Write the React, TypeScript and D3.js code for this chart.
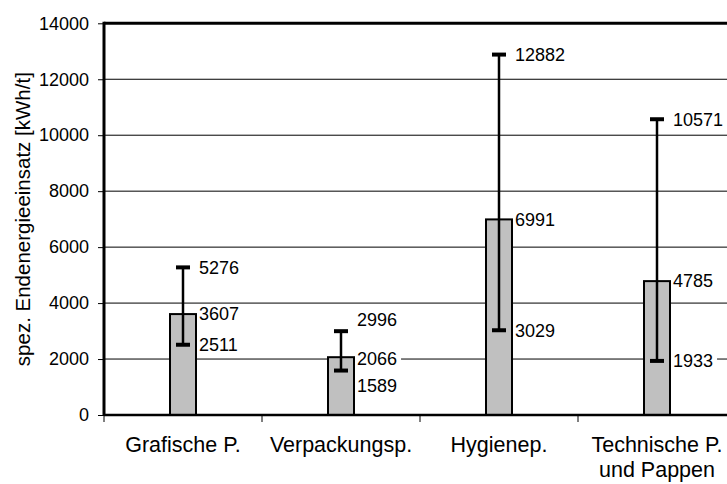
import React, { useEffect } from 'react'
import * as d3 from 'd3';

const categories = ["Grafische P.", "Verpackungsp.", "Hygienep.", "Technische P.|und Pappen"];
const meanValues = [3607, 2066, 6991, 4785];
const maxValues = [5276, 2996, 12882, 10571];
const minValues = [2511, 1589, 3029, 1933];
const yTicks = [0, 2000, 4000, 6000, 8000, 10000, 12000, 14000];

// label nudges in px (max, mean, min) where Excel moved labels apart
const nudges: Record<string, number[]> = {
    "Verpackungsp.": [-11, 2, 15],
};

export default function App() {
    useEffect(() => {
        document.body.style.margin = "0";
        d3.select("#chart").selectAll("svg").remove();

        const width = 727;
        const height = 484;
        const left = 104;
        const font = "Arial, 'Liberation Sans', sans-serif";

        const svg = d3.select("#chart")
            .append("svg")
            .attr("width", width)
            .attr("height", height)
            .style("display", "block")
            .style("font-family", font);

        const x = d3.scaleBand()
            .domain(categories)
            .range([left, left + 4 * 158])
            .padding(0);

        const y = d3.scaleLinear()
            .domain([0, 14000])
            .range([415, 23.3]);

        // gridlines
        svg.append("g")
            .selectAll("line")
            .data(yTicks.filter(t => t > 0 && t < 14000))
            .enter()
            .append("line")
            .attr("x1", left)
            .attr("x2", width)
            .attr("y1", d => y(d))
            .attr("y2", d => y(d))
            .attr("stroke", "#000")
            .attr("stroke-width", 1);

        // top frame
        svg.append("line")
            .attr("x1", left).attr("x2", width)
            .attr("y1", y(14000)).attr("y2", y(14000))
            .attr("stroke", "#000").attr("stroke-width", 3);

        // y axis
        const yAxis = svg.append("g")
            .attr("transform", `translate(${left},0)`)
            .call(d3.axisLeft(y).tickValues(yTicks).tickSize(6).tickPadding(9).tickFormat(d3.format("d")));
        yAxis.select(".domain").remove();
        yAxis.selectAll("line").attr("stroke-width", 1);
        yAxis.selectAll("text")
            .style("font-size", "18px")
            .style("font-family", font)
            .attr("fill", "#000");

        svg.append("line")
            .attr("x1", left).attr("x2", left)
            .attr("y1", y(14000) - 1.5).attr("y2", y(0) + 1)
            .attr("stroke", "#000").attr("stroke-width", 3);

        // y title
        svg.append("text")
            .attr("transform", `translate(30,${(y(0) + y(14000)) / 2}) rotate(-90)`)
            .attr("text-anchor", "middle")
            .style("font-size", "20.5px")
            .text("spez. Endenergieeinsatz [kWh/t]");

        // category boundary ticks
        svg.append("g")
            .selectAll("line")
            .data([0, 1, 2, 3, 4])
            .enter()
            .append("line")
            .attr("x1", i => left + i * x.bandwidth())
            .attr("x2", i => left + i * x.bandwidth())
            .attr("y1", y(0))
            .attr("y2", y(0) + 7)
            .attr("stroke", "#000")
            .attr("stroke-width", 1);

        const barW = 26;
        const cx = (c: string) => (x(c) as number) + x.bandwidth() / 2;

        // bars
        svg.append("g")
            .selectAll("rect")
            .data(categories)
            .enter()
            .append("rect")
            .attr("x", c => cx(c) - barW / 2)
            .attr("y", (c, i) => y(meanValues[i]))
            .attr("width", barW)
            .attr("height", (c, i) => y(0) - y(meanValues[i]))
            .attr("fill", "#c0c0c0")
            .attr("stroke", "#000")
            .attr("stroke-width", 2);

        // x axis line
        svg.append("line")
            .attr("x1", left).attr("x2", width)
            .attr("y1", y(0)).attr("y2", y(0))
            .attr("stroke", "#000").attr("stroke-width", 2.5);

        // error bars
        const err = svg.append("g");
        categories.forEach((c, i) => {
            err.append("line")
                .attr("x1", cx(c)).attr("x2", cx(c))
                .attr("y1", y(maxValues[i])).attr("y2", y(minValues[i]))
                .attr("stroke", "#000").attr("stroke-width", 2.5);
            [maxValues[i], minValues[i]].forEach(v => {
                err.append("line")
                    .attr("x1", cx(c) - 7).attr("x2", cx(c) + 7)
                    .attr("y1", y(v)).attr("y2", y(v))
                    .attr("stroke", "#000").attr("stroke-width", 4);
            });
        });

        // value labels
        const labels = svg.append("g").style("font-size", "18px");
        categories.forEach((c, i) => {
            const nd = nudges[c] || [0, 0, 0];
            [maxValues[i], meanValues[i], minValues[i]].forEach((v, k) => {
                const lx = cx(c) + barW / 2 + 3;
                const ly = y(v) + nd[k];
                const t = labels.append("text")
                    .attr("x", lx)
                    .attr("y", ly)
                    .attr("dy", "0.35em")
                    .text(v);
                const w = (t.node() as SVGTextElement).getComputedTextLength();
                labels.insert("rect", "text")
                    .attr("x", lx - 2)
                    .attr("y", ly - 10)
                    .attr("width", w + 6)
                    .attr("height", 20)
                    .attr("fill", "#fff");
            });
        });

        // category labels
        svg.append("g")
            .selectAll("text")
            .data(categories)
            .enter()
            .append("text")
            .attr("text-anchor", "middle")
            .style("font-size", "21.5px")
            .each(function (c) {
                const lines = c.split("|");
                lines.forEach((ln, k) => {
                    d3.select(this).append("tspan")
                        .attr("x", cx(c))
                        .attr("y", 452 + k * 25)
                        .text(ln);
                });
            });
    }, []);

    return <div id="chart"></div>;
}
